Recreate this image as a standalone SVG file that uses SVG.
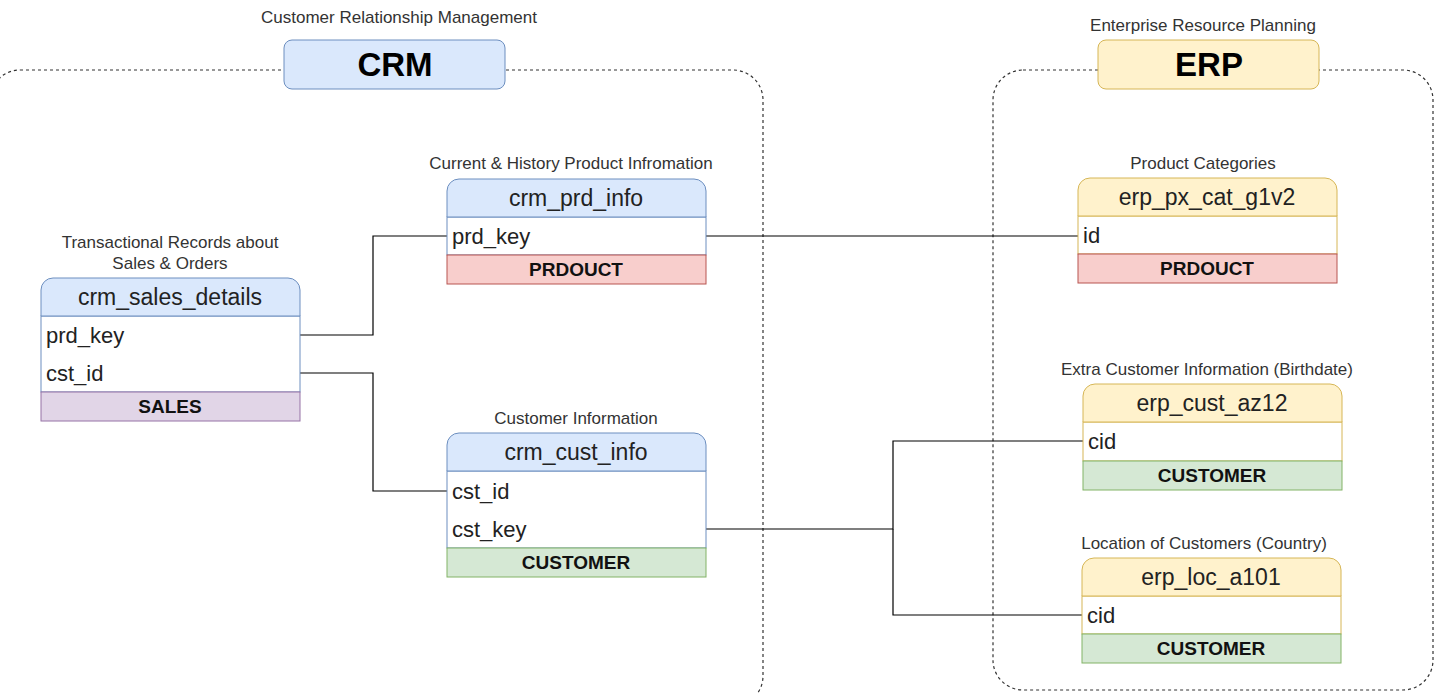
<svg xmlns="http://www.w3.org/2000/svg" width="1435" height="693" viewBox="0 0 1435 693">
<style>
text{font-family:"Liberation Sans",Arial,Helvetica,sans-serif}
.cap{font-size:17px;fill:#333;text-anchor:middle}
.ttl{font-size:33px;font-weight:bold;fill:#000;text-anchor:middle}
.hd{font-size:23px;fill:#222;text-anchor:middle}
.row{font-size:22px;fill:#222}
.ft{font-size:19px;font-weight:bold;fill:#111;text-anchor:middle}
.cont{fill:none;stroke:#333;stroke-width:1.2;stroke-dasharray:3 3}
.bH{fill:#dae8fc;stroke:#6c8ebf}
.bB{fill:#fff;stroke:#6c8ebf}
.yH{fill:#fff2cc;stroke:#d6b656}
.yB{fill:#fff;stroke:#d6b656}
.fR{fill:#f8cecc;stroke:#b85450}
.fG{fill:#d5e8d4;stroke:#82b366}
.fP{fill:#e1d5e7;stroke:#9673a6}
.conn{fill:none;stroke:#000;stroke-width:1.2}
</style>
<rect width="1435" height="693" fill="#fff"/>
<g id="crm-container">
<rect class="cont" x="-10" y="70" width="773" height="636" rx="30"/>
<text class="cap" x="399" y="23">Customer Relationship Management</text>
<rect x="284" y="40" width="221" height="49" rx="8" fill="#dae8fc" stroke="#6c8ebf"/>
<text class="ttl" x="395" y="76">CRM</text>
</g>
<g id="erp-container">
<rect class="cont" x="993" y="70" width="440" height="620" rx="30"/>
<text class="cap" x="1203" y="31">Enterprise Resource Planning</text>
<rect x="1098" y="40" width="221" height="49" rx="8" fill="#fff2cc" stroke="#d6b656"/>
<text class="ttl" x="1209" y="76">ERP</text>
</g>
<g id="connectors">
<polyline class="conn" points="300,335 373,335 373,236 447,236"/>
<polyline class="conn" points="300,373 373,373 373,491 447,491"/>
<polyline class="conn" points="706,236 1078,236"/>
<polyline class="conn" points="706,529 893,529 893,441 1083,441"/>
<polyline class="conn" points="893,529 893,615 1082,615"/>
</g>
<g id="crm_prd_info">
<text class="cap" x="571" y="169">Current &amp; History Product Infromation</text>
<rect class="bB" x="447" y="217" width="259" height="38"/>
<path class="bH" d="M447,217V191a12,12 0 0 1 12,-12H694a12,12 0 0 1 12,12V217Z"/>
<text class="hd" x="576" y="206">crm_prd_info</text>
<text class="row" x="452" y="244">prd_key</text>
<rect class="fR" x="447" y="255" width="259" height="29"/>
<text class="ft" x="576" y="276">PRDOUCT</text>
</g>
<g id="crm_sales_details">
<text class="cap" x="170" y="248">Transactional Records about</text>
<text class="cap" x="170" y="269">Sales &amp; Orders</text>
<rect class="bB" x="41" y="316" width="259" height="76"/>
<path class="bH" d="M41,316V290a12,12 0 0 1 12,-12H288a12,12 0 0 1 12,12V316Z"/>
<text class="hd" x="170" y="305">crm_sales_details</text>
<text class="row" x="46" y="343">prd_key</text>
<text class="row" x="46" y="381">cst_id</text>
<rect class="fP" x="41" y="392" width="259" height="29"/>
<text class="ft" x="170" y="413">SALES</text>
</g>
<g id="crm_cust_info">
<text class="cap" x="576" y="424">Customer Information</text>
<rect class="bB" x="447" y="471" width="259" height="77"/>
<path class="bH" d="M447,471V445a12,12 0 0 1 12,-12H694a12,12 0 0 1 12,12V471Z"/>
<text class="hd" x="576" y="460">crm_cust_info</text>
<text class="row" x="452" y="499">cst_id</text>
<text class="row" x="452" y="537">cst_key</text>
<rect class="fG" x="447" y="548" width="259" height="29"/>
<text class="ft" x="576" y="569">CUSTOMER</text>
</g>
<g id="erp_px_cat_g1v2">
<text class="cap" x="1203" y="169">Product Categories</text>
<rect class="yB" x="1078" y="216" width="259" height="38"/>
<path class="yH" d="M1078,216V190a12,12 0 0 1 12,-12H1325a12,12 0 0 1 12,12V216Z"/>
<text class="hd" x="1207" y="205">erp_px_cat_g1v2</text>
<text class="row" x="1083" y="243">id</text>
<rect class="fR" x="1078" y="254" width="259" height="29"/>
<text class="ft" x="1207" y="275">PRDOUCT</text>
</g>
<g id="erp_cust_az12">
<text class="cap" x="1207" y="375">Extra Customer Information (Birthdate)</text>
<rect class="yB" x="1083" y="422" width="259" height="39"/>
<path class="yH" d="M1083,422V396a12,12 0 0 1 12,-12H1330a12,12 0 0 1 12,12V422Z"/>
<text class="hd" x="1212" y="411">erp_cust_az12</text>
<text class="row" x="1088" y="449">cid</text>
<rect class="fG" x="1083" y="461" width="259" height="29"/>
<text class="ft" x="1212" y="482">CUSTOMER</text>
</g>
<g id="erp_loc_a101">
<text class="cap" x="1204" y="549">Location of Customers (Country)</text>
<rect class="yB" x="1082" y="596" width="259" height="38"/>
<path class="yH" d="M1082,596V570a12,12 0 0 1 12,-12H1329a12,12 0 0 1 12,12V596Z"/>
<text class="hd" x="1211" y="585">erp_loc_a101</text>
<text class="row" x="1087" y="623">cid</text>
<rect class="fG" x="1082" y="634" width="259" height="29"/>
<text class="ft" x="1211" y="655">CUSTOMER</text>
</g>
</svg>
